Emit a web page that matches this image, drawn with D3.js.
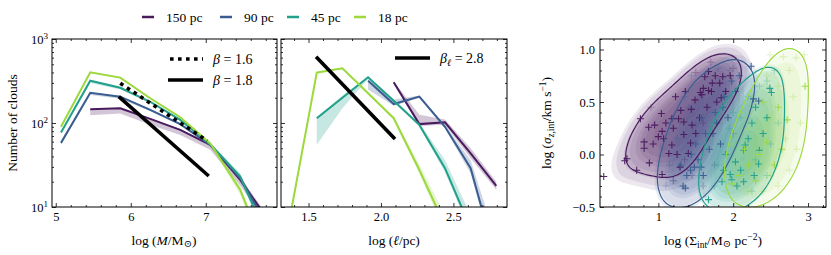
<!DOCTYPE html>
<html><head><meta charset="utf-8">
<script src="https://cdn.jsdelivr.net/npm/d3@7"></script>
<style>
body{margin:0;background:#fff}
svg, svg text{font-family:"Liberation Serif","DejaVu Serif",serif;}
</style>
</head><body>
<svg id="c" width="831" height="255"></svg>
<script>
// ---------------- data ----------------
const seriesNames = ["150 pc", "90 pc", "45 pc", "18 pc"];
const colors = ["#4a1a5e", "#3a5d91", "#21a08a", "#9bd93c"];

// left panel: mass function
const massBins = [5.07, 5.46, 5.86, 6.26, 6.66, 7.06, 7.46, 7.86];
const mass150 = [null, 146, 150, 112, 83, 55, 21, 6.5];
const mass90  = [58, 229, 206, 143, 97, 55, 22, 5.2];
const mass45  = [77, 319, 263, 179, 109, 56, 23, 3.6];
const mass18  = [90, 402, 347, 197, 117, 57, 16, 2];
const mass150Lo = [null, 124, 130, 95, 72, 48, 18, 5.5];
const mass150Hi = [null, 148, 152, 114, 84, 56, 23, 7];
const mass90Lo  = [56, 215, 195, 138, 94, 53, 20, 4.8];
const mass90Hi  = [60, 233, 210, 146, 99, 57, 24, 5.6];
const mass45Lo  = [75, 300, 250, 172, 106, 54, 21, 3.3];
const mass45Hi  = [79, 325, 268, 182, 111, 58, 25, 3.9];
const mass18Lo  = [88, 395, 340, 193, 115, 54, 14, 1.8];
const mass18Hi  = [92, 408, 352, 200, 119, 58, 18, 2.2];
const fit16X = [5.86, 7.02], fit16N = [297, 61.5];
const fit18X = [5.84, 7.04], fit18N = [206, 23.4];

// middle panel: size function
const sizeBins = [1.38, 1.557, 1.734, 1.911, 2.088, 2.265, 2.442, 2.619, 2.796];
const size150 = [null, null, null, null, 305, 97, 102, 43.6, 17.8];
const size90  = [null, null, null, 319, 168, 206, 90, 29, 2.3];
const size45  = [null, 114, 200, 350, 184, 95, 29, 5.6, null];
const size18  = [9, 398, 448, 226, 114, 27.6, 6, null, null];
const size150Lo = [null, null, null, null, 290, 92, 95, 38, 16];
const size150Hi = [null, null, null, null, 315, 125, 110, 50, 20];
const size90Lo  = [null, null, null, 250, 160, 198, 86, 25, 2];
const size90Hi  = [null, null, null, 330, 190, 212, 94, 36, 4];
const size45Lo  = [null, 55, 150, 335, 178, 90, 26, 5, null];
const size45Hi  = [null, 118, 212, 360, 190, 100, 36, 8, null];
const size18Lo  = [8, 380, 440, 220, 110, 25, 5, null, null];
const size18Hi  = [10, 410, 458, 232, 118, 32, 8, null, null];
const fitLX = [1.552, 2.097], fitLN = [615, 64.6];

// right panel: surface density vs velocity dispersion (log values)
const pts150 = [[0.27,-0.21],[0.55,-0.06],[0.58,-0.04],[0.71,-0.15],[0.76,0.34],[0.81,0.12],[0.81,0.06],[0.87,0.26],[0.88,-0.08],[0.93,0.1],[1.04,0.39],[1.05,0.22],[1.07,0.15],[1.05,-0.19],[1.14,0.01],[1.18,0.09],[1.18,0.34],[1.23,0.55],[1.27,0.34],[1.29,-0.12],[1.34,0.19],[1.34,0.31],[1.36,0.6],[1.4,0.01],[1.43,0.11],[1.44,0.43],[1.49,0.52],[1.56,0.59],[1.58,0.57],[1.6,0.63],[1.62,0.74],[1.67,0.61],[1.67,0.79],[1.71,0.6],[1.76,0.75],[1.78,0.5],[1.82,0.68],[1.84,0.54],[1.86,0.74],[1.96,0.75],[1.55,0.35],[1.65,0.45],[1.5,0.2],[1.2,0.25],[1.1,0.3],[1.0,0.17],[1.25,0.0],[0.95,0.28],[1.72,0.68],[1.9,0.6],[1.45,0.28],[1.3,0.42]];
const pts150Faded = [[1.5,0.78],[1.7,0.88],[1.35,-0.05],[1.45,-0.2],[1.2,-0.25],[0.9,0.45],[1.6,0.3],[2.0,0.82]];
const pts90 = [[1.44,0.0],[1.53,-0.05],[1.57,-0.12],[1.48,-0.12],[1.43,-0.15],[1.36,-0.32],[1.68,0.05],[1.73,0.2],[1.78,0.3],[1.88,0.55],[2.27,0.53],[2.34,0.51],[2.24,0.84],[1.98,0.7],[1.63,0.2],[1.58,0.35],[1.83,0.1],[1.38,-0.2],[1.33,-0.3],[1.3,-0.1],[1.93,0.35],[1.86,0.45],[2.03,0.6],[1.6,-0.2],[1.5,0.1],[2.08,0.75],[1.76,0.4]];
const pts90Faded = [[1.44,0.75],[1.35,0.55],[1.4,0.45],[1.2,0.35],[1.15,-0.1],[1.1,-0.3],[1.2,-0.25],[1.65,0.78],[1.8,0.82],[1.95,0.8],[1.5,0.3],[1.25,0.15],[1.6,-0.3],[1.75,-0.1],[2.0,0.2],[1.05,0.05]];
const pts45 = [[2.16,0.09],[2.14,0.04],[2.35,0.04],[2.34,-0.09],[2.03,-0.07],[1.98,-0.24],[1.85,-0.26],[2.14,-0.26],[1.96,-0.19],[1.87,-0.15],[2.51,0.59],[2.49,0.63],[1.67,-0.43],[2.2,0.15],[2.25,0.3],[2.05,-0.3],[2.28,-0.2],[2.4,0.2],[2.1,-0.15],[2.3,0.45],[1.9,0.0],[2.45,0.35]];
const pts45Faded = [[2.45,0.7],[2.35,0.65],[2.2,0.55],[2.0,0.4],[1.95,0.25],[1.8,-0.1],[1.75,-0.3],[2.25,-0.35],[2.45,-0.2],[2.6,0.3],[2.5,0.1],[2.1,0.35],[2.55,0.8],[1.9,0.55],[2.3,-0.05],[1.55,-0.2],[1.6,0.1],[1.7,0.3]];
const pts18 = [[2.96,0.65],[2.72,0.33],[2.45,0.12],[2.6,0.45],[2.35,0.0],[2.2,-0.1],[2.08,-0.2],[1.98,-0.28],[2.3,-0.25],[2.55,-0.1],[2.65,0.05],[2.4,0.5],[2.15,0.05]];
const pts18Faded = [[2.49,0.95],[2.67,0.93],[2.84,0.92],[2.95,0.95],[2.75,0.8],[2.6,0.65],[2.8,0.55],[2.9,0.3],[2.7,0.15],[2.5,-0.2],[2.6,-0.3],[2.4,-0.35],[2.2,-0.35],[1.9,-0.35],[2.3,0.3],[2.5,0.35],[2.2,0.25],[2.85,0.05],[2.75,-0.15],[2.45,0.75],[2.0,0.1],[2.1,0.4]];

const massTicks = [5, 6, 7];
const sizeTicks = [1.5, 2.0, 2.5];
const sigTicksX = [1, 2, 3];
const sigTicksY = [-0.5, 0.0, 0.5, 1.0];
const countTicks = [10, 100, 1000];

// ---------------- layout ----------------
const W = 831, H = 255;
const FONT = '"Liberation Serif","DejaVu Serif",serif';
const svg = d3.select("#c");
const pA = {x0: 52, x1: 277, y0: 39, y1: 207};
const pB = {x0: 281, x1: 507, y0: 39, y1: 207};
const pC = {x0: 600, x1: 826, y0: 39, y1: 207};

const xA = d3.scaleLinear().domain([4.95, 7.95]).range([pA.x0, pA.x1]);
const yN = d3.scaleLog().domain([10, 1000]).range([pA.y1, pA.y0]);
const xB = d3.scaleLinear().domain([1.31, 2.87]).range([pB.x0, pB.x1]);
const xC = d3.scaleLinear().domain([0.22, 3.24]).range([pC.x0, pC.x1]);
const yC = d3.scaleLinear().domain([-0.5, 1.1]).range([pC.y1, pC.y0]);

const defs = svg.append("defs");
function clip(id, p) {
  defs.append("clipPath").attr("id", id).append("rect")
    .attr("x", p.x0).attr("y", p.y0).attr("width", p.x1 - p.x0).attr("height", p.y1 - p.y0);
  return svg.append("g").attr("clip-path", `url(#${id})`);
}
function txt(g) { return g.append("text").style("font-family", FONT); }

// ---------------- helpers ----------------
function minorRange(a, b, step) { const r = []; for (let v = a; v <= b + 1e-9; v += step) r.push(+v.toFixed(4)); return r; }
const logMinor = [];
[10, 100].forEach(d => { for (let k = 2; k <= 9; k++) logMinor.push(d * k); });

function axes(p, xs, ys, xMaj, xMin, yMaj, yMin, xFmt, yFmt) {
  const g = svg.append("g");
  const mk = (gen, tr, vals, size, fmt) => {
    const a = g.append("g").attr("transform", tr)
      .call(gen.tickValues(vals).tickSize(size).tickSizeOuter(0).tickPadding(5).tickFormat(fmt || (() => "")));
    a.select(".domain").remove();
    a.selectAll("line").attr("stroke", "#000").attr("stroke-width", 0.8);
    a.selectAll("text").style("font-family", FONT).style("font-size", "12.5px");
    return a;
  };
  mk(d3.axisBottom(xs), `translate(0,${p.y1})`, xMaj, -4, xFmt);
  mk(d3.axisBottom(xs), `translate(0,${p.y1})`, xMin, -2);
  mk(d3.axisTop(xs), `translate(0,${p.y0})`, xMaj, -4);
  mk(d3.axisTop(xs), `translate(0,${p.y0})`, xMin, -2);
  mk(d3.axisLeft(ys), `translate(${p.x0},0)`, yMaj, -4, yFmt);
  mk(d3.axisLeft(ys), `translate(${p.x0},0)`, yMin, -2);
  mk(d3.axisRight(ys), `translate(${p.x1},0)`, yMaj, -4);
  mk(d3.axisRight(ys), `translate(${p.x1},0)`, yMin, -2);
  g.append("rect").attr("x", p.x0).attr("y", p.y0).attr("width", p.x1 - p.x0).attr("height", p.y1 - p.y0)
    .attr("fill", "none").attr("stroke", "#000").attr("stroke-width", 1);
  return g;
}

function drawHist(g, xs, bins, series, los, his) {
  series.forEach((vals, i) => {
    const rows = bins.map((b, j) => ({x: b, v: vals[j], lo: los[i][j], hi: his[i][j]}));
    const area = d3.area().defined(d => d.lo != null && d.hi != null)
      .x(d => xs(d.x)).y0(d => yN(d.lo)).y1(d => yN(d.hi));
    g.append("path").datum(rows).attr("d", area).attr("fill", colors[i]).attr("fill-opacity", 0.25);
  });
  series.forEach((vals, i) => {
    const rows = bins.map((b, j) => ({x: b, v: vals[j]}));
    const line = d3.line().defined(d => d.v != null).x(d => xs(d.x)).y(d => yN(d.v));
    g.append("path").datum(rows).attr("d", line).attr("fill", "none")
      .attr("stroke", colors[i]).attr("stroke-width", 2);
  });
}

// ---------------- left panel ----------------
const gA = clip("clipA", pA);
drawHist(gA, xA, massBins, [mass150, mass90, mass45, mass18],
  [mass150Lo, mass90Lo, mass45Lo, mass18Lo], [mass150Hi, mass90Hi, mass45Hi, mass18Hi]);
const fitLine = (xs) => d3.line().x(d => xs(d[0])).y(d => yN(d[1]));
gA.append("path").datum(fit16X.map((x, i) => [x, fit16N[i]])).attr("d", fitLine(xA))
  .attr("stroke", "#000").attr("stroke-width", 3.6).attr("stroke-dasharray", "3.6,4.4").attr("fill", "none");
gA.append("path").datum(fit18X.map((x, i) => [x, fit18N[i]])).attr("d", fitLine(xA))
  .attr("stroke", "#000").attr("stroke-width", 3.6).attr("fill", "none");

axes(pA, xA, yN, massTicks, minorRange(5, 7.8, 0.2).filter(v => !massTicks.includes(v)),
  countTicks, logMinor, d3.format("d"), () => "");
countTicks.forEach(v => {
  const t = txt(svg).attr("x", pA.x0 - 4).attr("y", yN(v) + 5)
    .attr("text-anchor", "end").style("font-size", "12.5px");
  t.append("tspan").text("10");
  t.append("tspan").attr("dy", -5).style("font-size", "9px").text(Math.log10(v));
});

const legA = svg.append("g");
legA.append("line").attr("x1", 170).attr("x2", 203).attr("y1", 59).attr("y2", 59)
  .attr("stroke", "#000").attr("stroke-width", 3.6).attr("stroke-dasharray", "3.6,4.4");
legA.append("line").attr("x1", 168).attr("x2", 203).attr("y1", 80).attr("y2", 80)
  .attr("stroke", "#000").attr("stroke-width", 3.6);
[["1.6", 64], ["1.8", 85]].forEach(([b, y]) => {
  const t = txt(legA).attr("x", 213).attr("y", y).style("font-size", "14px");
  t.append("tspan").attr("font-style", "italic").text("β");
  t.append("tspan").text(" = " + b);
});

// ---------------- middle panel ----------------
const gB = clip("clipB", pB);
drawHist(gB, xB, sizeBins, [size150, size90, size45, size18],
  [size150Lo, size90Lo, size45Lo, size18Lo], [size150Hi, size90Hi, size45Hi, size18Hi]);
gB.append("path").datum(fitLX.map((x, i) => [x, fitLN[i]])).attr("d", fitLine(xB))
  .attr("stroke", "#000").attr("stroke-width", 3.6).attr("fill", "none");
axes(pB, xB, yN, sizeTicks, minorRange(1.4, 2.8, 0.1).filter(v => !sizeTicks.some(t => Math.abs(t - v) < 1e-6)),
  countTicks, logMinor, d3.format(".1f"), null);
svg.append("line").attr("x1", 395).attr("x2", 430).attr("y1", 58).attr("y2", 58)
  .attr("stroke", "#000").attr("stroke-width", 3.6);
{
  const t = txt(svg).attr("x", 440).attr("y", 63).style("font-size", "14px");
  t.append("tspan").attr("font-style", "italic").text("β");
  t.append("tspan").attr("font-style", "italic").attr("dy", 3).style("font-size", "10px").text("ℓ");
  t.append("tspan").attr("dy", -3).text(" = 2.8");
}

// ---------------- right panel: KDE (oriented kernel), common normalisation ----------------
const gC = clip("clipC", pC);
const groups = [
  {pts: pts150, faded: pts150Faded},
  {pts: pts90, faded: pts90Faded},
  {pts: pts45, faded: pts45Faded},
  {pts: pts18, faded: pts18Faded}
];
const fillProps = [0.05, 0.15, 0.25, 0.35, 0.45, 0.55, 0.65, 0.75, 0.85, 0.95];
const lineProp = 0.07;
const bwAdjust = 1.45;
const KASPECT = 1.7;
const OFF = 320, SZ = 640;
const NTOT = d3.sum(groups, g => g.pts.length + g.faded.length);

function buildKde(all) {
  const P = all.map(d => [xC(d[0]), yC(d[1])]);
  const n = P.length;
  const mx = d3.mean(P, p => p[0]), my = d3.mean(P, p => p[1]);
  let sxx = 0, syy = 0, sxy = 0;
  P.forEach(([x, y]) => { sxx += (x - mx) ** 2; syy += (y - my) ** 2; sxy += (x - mx) * (y - my); });
  sxx /= n - 1; syy /= n - 1; sxy /= n - 1;
  const tr = sxx + syy, det = sxx * syy - sxy * sxy;
  const disc = Math.sqrt(Math.max(tr * tr / 4 - det, 0));
  const l1 = tr / 2 + disc, l2 = tr / 2 - disc;
  const th = 0.5 * Math.atan2(2 * sxy, sxx - syy);
  const c = Math.cos(th), s = Math.sin(th);
  const r = Math.min(Math.sqrt(l1 / l2), KASPECT);
  const fwd = (x, y) => [((x - mx) * c + (y - my) * s) / r + OFF, (-(x - mx) * s + (y - my) * c) + OFF];
  const inv = (u, v) => { const a = (u - OFF) * r, b = v - OFF; return [mx + a * c - b * s, my + a * s + b * c]; };
  const g = Math.pow(l1 * l2, 0.25);
  const bw = bwAdjust * Math.pow(n, -1 / 6) * g / Math.sqrt(r);
  const T = P.map(([x, y]) => fwd(x, y));
  const w = 1 / (NTOT * r);
  const k = w / (2 * Math.PI * bw * bw);
  const dpt = T.map(([u, v]) => d3.sum(T, ([u2, v2]) => k * Math.exp(-((u - u2) ** 2 + (v - v2) ** 2) / (2 * bw * bw))));
  const dens = d3.contourDensity().x(d => d[0]).y(d => d[1]).weight(() => w)
    .size([SZ, SZ]).cellSize(2).bandwidth(bw);
  const proj = d3.geoTransform({point: function (u, v) { const q = inv(u, v); this.stream.point(q[0], q[1]); }});
  return {T, dpt: dpt.slice().sort(d3.ascending), dens, path: d3.geoPath(proj)};
}
const kdes = groups.map(gr => buildKde(gr.pts.concat(gr.faded)));
const allDens = kdes.flatMap(k => k.dpt).sort(d3.ascending);
const commonLevels = fillProps.map(q => d3.quantileSorted(allDens, q));
kdes.forEach((kd, i) => {
  const cs = kd.dens.thresholds(commonLevels)(kd.T);
  gC.append("g").selectAll("path").data(cs).join("path")
    .attr("d", kd.path).attr("fill", colors[i]).attr("fill-opacity", 0.1).attr("stroke", "none");
});
function plus(g, data, col, op) {
  g.append("g").selectAll("path").data(data).join("path")
    .attr("d", d => `M${xC(d[0]) - 3.5},${yC(d[1])}h7M${xC(d[0])},${yC(d[1]) - 3.5}v7`)
    .attr("stroke", col).attr("stroke-opacity", op).attr("stroke-width", 1.1).attr("fill", "none");
}
groups.forEach((gr, i) => plus(gC, gr.faded, colors[i], 0.3));
groups.forEach((gr, i) => plus(gC, gr.pts, colors[i], 0.95));
kdes.forEach((kd, i) => {
  const cs = kd.dens.thresholds([d3.quantileSorted(kd.dpt, lineProp)])(kd.T);
  gC.append("g").selectAll("path").data(cs).join("path")
    .attr("d", kd.path).attr("fill", "none").attr("stroke", colors[i]).attr("stroke-width", 1.2);
});
axes(pC, xC, yC, sigTicksX, minorRange(0.4, 3.2, 0.2).filter(v => !sigTicksX.some(t => Math.abs(t - v) < 1e-6)),
  sigTicksY, minorRange(-0.4, 1.1, 0.1).filter(v => !sigTicksY.some(t => Math.abs(t - v) < 1e-6)),
  d3.format(".0f"), d3.format(".1f"));

// ---------------- labels ----------------
txt(svg).attr("transform", "translate(17,123) rotate(-90)").attr("text-anchor", "middle")
  .style("font-size", "13.5px").text("Number of clouds");
{
  const t = txt(svg).attr("x", 164).attr("y", 245).attr("text-anchor", "middle").style("font-size", "13.5px");
  t.append("tspan").text("log (");
  t.append("tspan").attr("font-style", "italic").text("M");
  t.append("tspan").text("/M");
  t.append("tspan").attr("dy", 2).style("font-size", "10px").text("⊙");
  t.append("tspan").attr("dy", -2).text(")");
}
{
  const t = txt(svg).attr("x", 394).attr("y", 245).attr("text-anchor", "middle").style("font-size", "13.5px");
  t.append("tspan").text("log (");
  t.append("tspan").attr("font-style", "italic").text("ℓ");
  t.append("tspan").text("/pc)");
}
{
  const t = txt(svg).attr("x", 713).attr("y", 245).attr("text-anchor", "middle").style("font-size", "13.5px");
  t.append("tspan").text("log (Σ");
  t.append("tspan").attr("dy", 3).style("font-size", "9.5px").text("int");
  t.append("tspan").attr("dy", -3).text("/M");
  t.append("tspan").attr("dy", 2).style("font-size", "10px").text("⊙");
  t.append("tspan").attr("dy", -2).text(" pc");
  t.append("tspan").attr("dy", -5).style("font-size", "9.5px").text("−2");
  t.append("tspan").attr("dy", 5).text(")");
}
{
  const t = txt(svg).attr("transform", "translate(551,123) rotate(-90)").attr("text-anchor", "middle").style("font-size", "13.5px");
  t.append("tspan").text("log (");
  t.append("tspan").attr("font-style", "italic").text("σ");
  t.append("tspan").attr("dy", 3).style("font-size", "9.5px").attr("font-style", "italic").text("z");
  t.append("tspan").style("font-size", "9.5px").text(",int");
  t.append("tspan").attr("dy", -3).text("/km s");
  t.append("tspan").attr("dy", -5).style("font-size", "9.5px").text("−1");
  t.append("tspan").attr("dy", 5).text(")");
}

// ---------------- top legend ----------------
const legX = [142, 220, 287, 354];
seriesNames.forEach((n, i) => {
  svg.append("line").attr("x1", legX[i]).attr("x2", legX[i] + 12).attr("y1", 17).attr("y2", 17)
    .attr("stroke", colors[i]).attr("stroke-width", 2.5);
  txt(svg).attr("x", legX[i] + 24).attr("y", 21.5).style("font-size", "13.5px").text(n);
});
</script>
</body></html>
